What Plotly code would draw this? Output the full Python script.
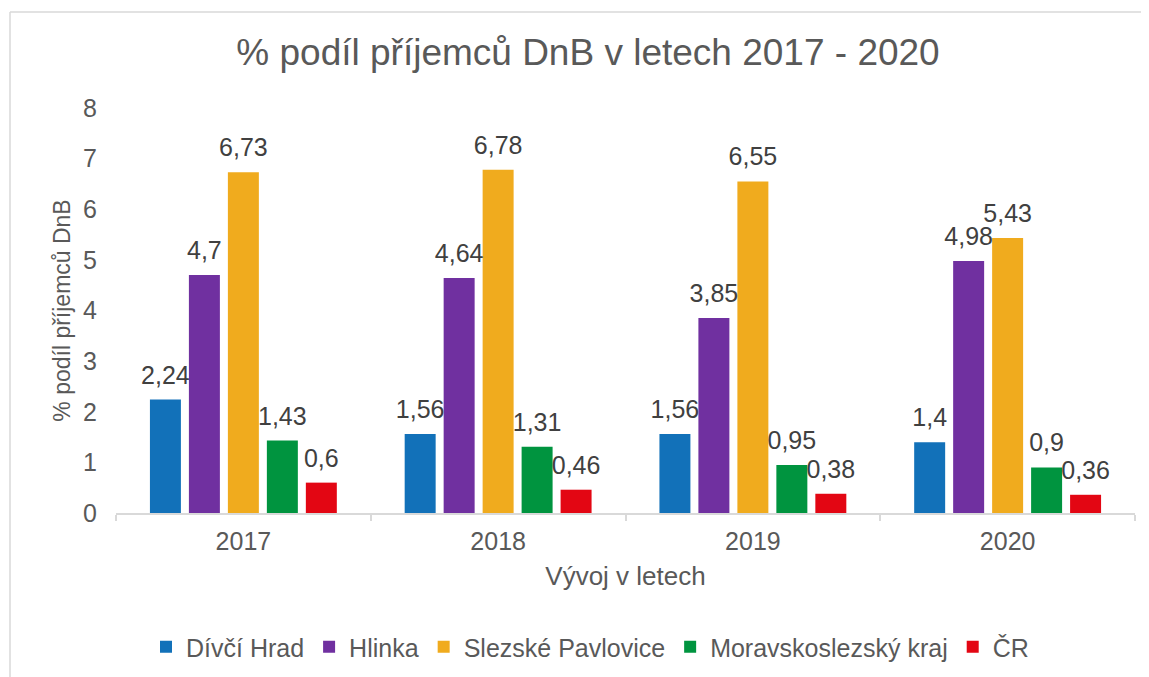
import plotly.graph_objects as go

years = ["2017", "2018", "2019", "2020"]
series_names = ["Dívčí Hrad", "Hlinka", "Slezské Pavlovice", "Moravskoslezský kraj", "ČR"]
divci_hrad = [2.24, 1.56, 1.56, 1.4]
hlinka = [4.7, 4.64, 3.85, 4.98]
slezske_pavlovice = [6.73, 6.78, 6.55, 5.43]
msk = [1.43, 1.31, 0.95, 0.9]
cr = [0.6, 0.46, 0.38, 0.36]
series_values = [divci_hrad, hlinka, slezske_pavlovice, msk, cr]
colors = ["#1271B9", "#7030A0", "#F0AB1E", "#00943F", "#E30613"]

title_text = "% podíl příjemců DnB v letech 2017 - 2020"
y_title = "% podíl příjemců DnB"
x_title = "Vývoj v letech"

FONT = "Liberation Sans, Arial, sans-serif"
OFF = 8  # page body margin offset
SW, SH = 1149, 677
W, H = SW - OFF, SH - OFF
L, R, T, B = 116 - OFF, 14, 108 - OFF, 164
PW = W - L - R
PH = H - T - B
GAP = 0.235


def fmt(v):
    return f"{v:g}".replace(".", ",")


fig = go.Figure()
for name, vals, col in zip(series_names, series_values, colors):
    fig.add_trace(go.Bar(
        name=name, x=years, y=vals,
        offsetgroup=name, alignmentgroup="bars",
        marker=dict(color=col, line=dict(width=0)),
        hoverinfo="skip",
    ))
for name, vals in zip(series_names, series_values):
    fig.add_trace(go.Scatter(
        name=name, x=years, y=vals, mode="markers+text",
        offsetgroup=name, alignmentgroup="labels",
        marker=dict(size=14, opacity=0),
        text=[fmt(v) for v in vals],
        textposition="top center",
        textfont=dict(family=FONT, size=25, color="#404040"),
        cliponaxis=False, showlegend=False, hoverinfo="skip",
    ))


def px_x(sx):
    return (sx - OFF - L) / PW


def px_y(sy):
    return (H - B - (sy - OFF)) / PH


border = "#D9D9D9"
fig.add_shape(type="line", xref="paper", yref="paper",
              x0=px_x(10), x1=px_x(10), y0=px_y(12), y1=px_y(SH + 5),
              line=dict(color=border, width=1.5))
fig.add_shape(type="line", xref="paper", yref="paper",
              x0=px_x(10), x1=px_x(SW + 5), y0=px_y(12), y1=px_y(12),
              line=dict(color=border, width=1.5))

fig.update_layout(
    width=W, height=H,
    margin=dict(l=L, r=R, t=T, b=B, autoexpand=False),
    paper_bgcolor="white", plot_bgcolor="white",
    barmode="group", bargap=GAP, bargroupgap=0.205,
    scattermode="group", scattergap=GAP,
    font=dict(family=FONT, color="#595959"),
    title=dict(text=title_text, x=(588 - OFF) / W, xanchor="center",
               y=1 - (52 - OFF) / H, yanchor="middle",
               font=dict(family=FONT, size=37, color="#595959")),
    xaxis=dict(
        type="category", showgrid=False, showline=True, linecolor=border, linewidth=1.5,
        ticks="outside", tickson="boundaries", ticklen=6, tickcolor=border, tickwidth=1.5,
        tickfont=dict(family=FONT, size=25, color="#595959"),
        ticklabelstandoff=5,
        title=dict(text=x_title, font=dict(family=FONT, size=26, color="#595959"), standoff=13),
        fixedrange=True, automargin=False,
    ),
    yaxis=dict(
        range=[0, 8], dtick=1, tick0=0, showgrid=False, zeroline=False, showline=False,
        ticks="", tickfont=dict(family=FONT, size=25, color="#595959"),
        ticklabelstandoff=18,
        title=dict(text="\u00a0\u00a0\u00a0" + y_title,
                   font=dict(family=FONT, size=23, color="#595959"), standoff=6),
        fixedrange=True, automargin=False,
    ),
    legend=dict(orientation="h", x=(590 - OFF) / W, xref="container", xanchor="center",
                y=1 - (647 - OFF) / H, yref="container", yanchor="middle",
                font=dict(family=FONT, size=25, color="#595959"),
                itemclick=False, itemdoubleclick=False, traceorder="normal"),
    showlegend=True,
)

fig.write_html("out.html", config={"displayModeBar": False})
